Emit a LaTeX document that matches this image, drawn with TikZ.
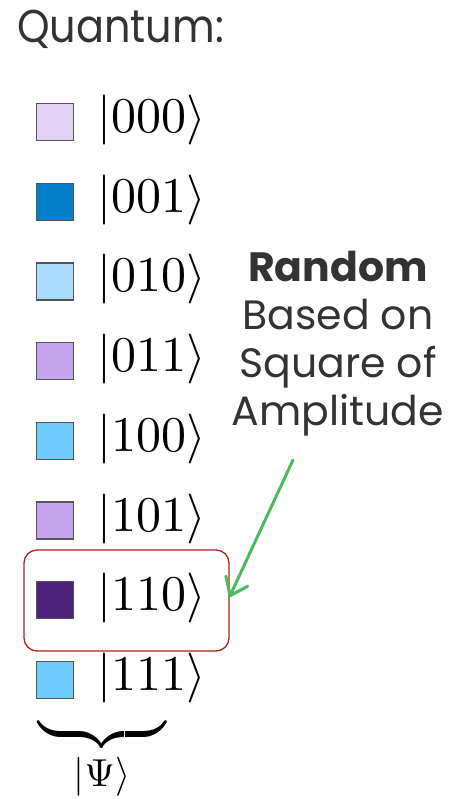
\documentclass[tikz,border=0pt]{standalone}
\usepackage{fontspec}
\setmainfont{Poppins}
\usetikzlibrary{arrows.meta}

\definecolor{txt}{HTML}{333333}
\definecolor{edgegray}{HTML}{555555}
\definecolor{lav}{HTML}{E1D1F5}
\definecolor{deepblue}{HTML}{0080C9}
\definecolor{paleblue}{HTML}{AADCFF}
\definecolor{lilac}{HTML}{C4A5EC}
\definecolor{skyblue}{HTML}{6DCBFF}
\definecolor{darkpurple}{HTML}{4C217A}
\definecolor{boxred}{HTML}{A8261A}
\definecolor{arrowgreen}{HTML}{4CBB5E}

% kets set at 10pt and enlarged, which keeps the heavier cmr10 strokes
\newcommand{\bigket}[1]{\scalebox{5}{\normalsize$|#1\rangle$}}

\begin{document}
\begin{tikzpicture}[x=1pt,y=-1pt,
  sq/.style={draw=edgegray, line width=1.3pt, minimum size=37pt, inner sep=0pt},
  ket/.style={anchor=west, inner sep=0pt},
  label/.style={text=txt}]
\useasboundingbox (0,0) rectangle (449,799);

\node[label, anchor=base west, inner sep=0pt] (title) at (17,43)
  {\scalebox{0.9}[1]{\fontsize{46}{50}\selectfont Quantum:}};

% basis states with colour swatches
\foreach \i/\s/\c in {0/000/lav,1/001/deepblue,2/010/paleblue,3/011/lilac,4/100/skyblue,5/101/lilac,6/110/darkpurple,7/111/skyblue}{
  \node[sq, fill=\c] (s\s) at (55, 122+79.7*\i) {};
  \node[ket] (k\s) at (97, 120+79.7*\i) {\bigket{\s}};
}

% highlighted outcome
\draw[boxred, line width=1.3pt, rounded corners=13pt] (24,550) rectangle (229,651);

% measurement note
\node[label, align=center, inner sep=0pt, anchor=north, font=\fontsize{41}{48}\selectfont] (note) at (338,251)
  {\textbf{Random}\\Based on\\Square of\\Amplitude};

\coordinate (from) at (293,460);
\coordinate (to) at (229,598);
\draw[arrowgreen, line width=3pt, line cap=round, -{Straight Barb[length=16pt,width=24pt,line cap=round]}] (from) -- (to);

% brace gathering the states
\node[inner sep=0pt] (brace) at (102,734)
  {\scalebox{5}{\hbox to 25.4pt{\upbracefill}}};
\node[inner sep=0pt] (psi) at (102,777) {\scalebox{3.9}{\normalsize$|\Psi\rangle$}};
\end{tikzpicture}
\end{document}
